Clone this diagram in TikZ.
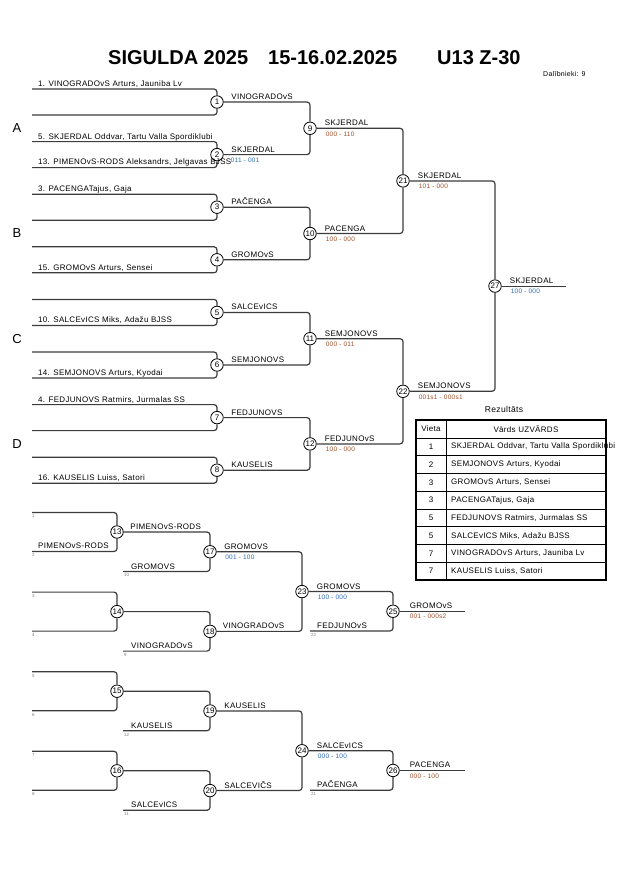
\documentclass[tikz,border=0pt]{standalone}
\usepackage{fontspec}
\setmainfont{Liberation Sans}
\newfontfamily\bracketfont[LetterSpace=4]{Liberation Sans}
\usetikzlibrary{positioning, calc}

\definecolor{wiregray}{HTML}{3C3C3C}
\definecolor{scorebrown}{HTML}{A0522D}
\definecolor{scoreblue}{HTML}{2F6DB5}

\tikzset{
  game/.style={circle, draw=black, line width=0.8pt, fill=white, inner sep=0pt,
    minimum size=12.5pt, font=\fontsize{8}{8}\selectfont},
  wire/.style={draw=wiregray, line width=1.2pt, rounded corners=3pt},
  player/.style={anchor=base west, inner sep=0pt, font=\bracketfont\fontsize{8}{9}\selectfont},
  score/.style={anchor=north west, inner sep=0pt, font=\bracketfont\fontsize{6.5}{7}\selectfont},
  seed/.style={anchor=north west, inner sep=0pt, text=gray, font=\fontsize{4.5}{4.5}\selectfont},
  group/.style={inner sep=0pt, font=\fontsize{13}{15}\selectfont},
  heading/.style={anchor=base west, inner sep=0pt, font=\bfseries\fontsize{20}{24}\selectfont},
  cell/.style={inner sep=0pt, font=\bracketfont\fontsize{8}{9}\selectfont},
}

\begin{document}
\begin{tikzpicture}[x=1pt, y=-1pt]
\useasboundingbox (0,0) rectangle (630,891);

% heading
\node[heading] (title) at (108,64) {SIGULDA 2025};
\node[heading] (dates) at (268,64) {15-16.02.2025};
\node[heading] (class) at (437,64) {U13 Z-30};
\node[anchor=base west, inner sep=0pt, font=\bracketfont\fontsize{7}{8}\selectfont] (count) at (543,76) {Dalībnieki: 9};

% main bracket, first round
\foreach \i in {1,...,8} {
  \pgfmathsetmacro\cy{102+(\i-1)*52.6}
  \node[game] (m\i) at (217,\cy) {\i};
  \coordinate (top\i) at (32,\cy-13);
  \coordinate (bot\i) at (32,\cy+13);
  \draw[wire] (top\i) -| (m\i.north);
  \draw[wire] (bot\i) -| (m\i.south);
}
% later rounds
\foreach \j/\ma/\mb in {9/1/2, 10/3/4, 11/5/6, 12/7/8, 21/9/10, 22/11/12} {
  \node[game] (m\j) at ($(m\ma)!0.5!(m\mb) + (93,0)$) {\j};
  \draw[wire] (m\ma.east) -| (m\j.north);
  \draw[wire] (m\mb.east) -| (m\j.south);
}
\node[game] (m27) at ($(m21)!0.5!(m22) + (92,0)$) {27};
\draw[wire] (m21.east) -| (m27.north);
\draw[wire] (m22.east) -| (m27.south);
\coordinate (champ) at ($(m27) + (71,0)$);
\draw[wire] (m27.east) -- (champ);

% groups
\foreach \g/\k in {A/9, B/10, C/11, D/12}
  \node[group] (grp\g) at (17,0 |- m\k) {\g};

% entrants
\node[player] (p1) at ($(top1)+(6,-2.5)$) {1. VINOGRADOvS Arturs, Jauniba Lv};
\node[player] (p5) at ($(top2)+(6,-2.5)$) {5. SKJERDAL Oddvar, Tartu Valla Spordiklubi};
\node[player] (p13) at ($(bot2)+(6,-3.5)$) {13. PIMENOvS-RODS Aleksandrs, Jelgavas BJSS};
\node[player] (p3) at ($(top3)+(6,-2.5)$) {3. PACENGATajus, Gaja};
\node[player] (p15) at ($(bot4)+(6,-2.5)$) {15. GROMOvS Arturs, Sensei};
\node[player] (p10) at ($(bot5)+(6,-2.5)$) {10. SALCEvICS Miks, Adažu BJSS};
\node[player] (p14) at ($(bot6)+(6,-2.5)$) {14. SEMJONOVS Arturs, Kyodai};
\node[player] (p4) at ($(top7)+(6,-2.5)$) {4. FEDJUNOVS Ratmirs, Jurmalas SS};
\node[player] (p16) at ($(bot8)+(6,-2.5)$) {16. KAUSELIS Luiss, Satori};

% winners of the main bracket
\node[player] (w1) at ($(m1.east)+(7.5,-2.5)$) {VINOGRADOvS};
\node[player] (w2) at ($(m2.east)+(7.5,-2.5)$) {SKJERDAL};
\node[score, text=scoreblue] (s2) at ($(m2.east)+(7,3)$) {011 - 001};
\node[player] (w3) at ($(m3.east)+(7.5,-2.5)$) {PAČENGA};
\node[player] (w4) at ($(m4.east)+(7.5,-2.5)$) {GROMOvS};
\node[player] (w5) at ($(m5.east)+(7.5,-2.5)$) {SALCEvICS};
\node[player] (w6) at ($(m6.east)+(7.5,-2.5)$) {SEMJONOVS};
\node[player] (w7) at ($(m7.east)+(7.5,-2.5)$) {FEDJUNOVS};
\node[player] (w8) at ($(m8.east)+(7.5,-2.5)$) {KAUSELIS};

\node[player] (w9) at ($(m9.east)+(8,-2.5)$) {SKJERDAL};
\node[score, text=scorebrown] (s9) at ($(m9.east)+(9,3)$) {000 - 110};
\node[player] (w10) at ($(m10.east)+(8,-2.5)$) {PACENGA};
\node[score, text=scorebrown] (s10) at ($(m10.east)+(9,3)$) {100 - 000};
\node[player] (w11) at ($(m11.east)+(8,-2.5)$) {SEMJONOVS};
\node[score, text=scorebrown] (s11) at ($(m11.east)+(9,3)$) {000 - 011};
\node[player] (w12) at ($(m12.east)+(8,-2.5)$) {FEDJUNOvS};
\node[score, text=scorebrown] (s12) at ($(m12.east)+(9,3)$) {100 - 000};
\node[player] (w21) at ($(m21.east)+(8,-2.5)$) {SKJERDAL};
\node[score, text=scorebrown] (s21) at ($(m21.east)+(9,3)$) {101 - 000};
\node[player] (w22) at ($(m22.east)+(8,-2.5)$) {SEMJONOVS};
\node[score, text=scorebrown] (s22) at ($(m22.east)+(9,3)$) {001s1 - 000s1};
\node[player] (w27) at ($(m27.east)+(8,-2.5)$) {SKJERDAL};
\node[score, text=scoreblue] (s27) at ($(m27.east)+(9,3)$) {100 - 000};

% consolation bracket
\foreach \i/\k in {13/0, 14/1, 15/2, 16/3} {
  \pgfmathsetmacro\cy{532+\k*79.6}
  \pgfmathtruncatemacro\sa{2*\k+1}
  \pgfmathtruncatemacro\sb{2*\k+2}
  \node[game] (m\i) at (117,\cy) {\i};
  \coordinate (top\i) at (32,\cy-19.5);
  \coordinate (bot\i) at (32,\cy+19.5);
  \draw[wire] (top\i) -| (m\i.north);
  \draw[wire] (bot\i) -| (m\i.south);
  \node[seed] (seed\sa) at ($(top\i)+(0,2)$) {\sa};
  \node[seed] (seed\sb) at ($(bot\i)+(0,2)$) {\sb};
}
\foreach \j/\ma/\n in {17/13/10, 18/14/9, 19/15/12, 20/16/11} {
  \coordinate (bot\j) at ($(m\ma)+(6,39.5)$);
  \node[game] (m\j) at ($(m\ma)+(93,19.75)$) {\j};
  \draw[wire] (m\ma.east) -| (m\j.north);
  \draw[wire] (bot\j) -| (m\j.south);
  \node[seed] (seedr\j) at ($(bot\j)+(1,2)$) {\n};
}
\foreach \j/\ma/\mb in {23/17/18, 24/19/20} {
  \node[game] (m\j) at ($(m\ma)!0.5!(m\mb) + (92,0)$) {\j};
  \draw[wire] (m\ma.east) -| (m\j.north);
  \draw[wire] (m\mb.east) -| (m\j.south);
}
\foreach \j/\ma/\n in {25/23/22, 26/24/21} {
  \coordinate (bot\j) at ($(m\ma)+(8,39.4)$);
  \node[game] (m\j) at ($(m\ma)+(91,19.7)$) {\j};
  \draw[wire] (m\ma.east) -| (m\j.north);
  \draw[wire] (bot\j) -| (m\j.south);
  \node[seed] (seedr\j) at ($(bot\j)+(1,2)$) {\n};
  \coordinate (end\j) at ($(m\j)+(72,0)$);
  \draw[wire] (m\j.east) -- (end\j);
}

% consolation labels
\node[player] (pb13) at ($(bot13)+(6,-3)$) {PIMENOvS-RODS};
\node[player] (w13) at ($(m13.east)+(6.5,-2.5)$) {PIMENOvS-RODS};
\node[player] (pb17) at ($(bot17)+(8,-2.5)$) {GROMOVS};
\node[player] (pb18) at ($(bot18)+(8,-2.5)$) {VINOGRADOvS};
\node[player] (pb19) at ($(bot19)+(8,-2.5)$) {KAUSELIS};
\node[player] (pb20) at ($(bot20)+(8,-2.5)$) {SALCEvICS};
\node[player] (w17) at ($(m17.east)+(7.5,-2.5)$) {GROMOVS};
\node[score, text=scoreblue] (s17) at ($(m17.east)+(8.5,3)$) {001 - 100};
\node[player] (w18) at ($(m18.east)+(6,-2.5)$) {VINOGRADOvS};
\node[player] (w19) at ($(m19.east)+(7.5,-2.5)$) {KAUSELIS};
\node[player] (w20) at ($(m20.east)+(7.5,-2.5)$) {SALCEVIČS};
\node[player] (w23) at ($(m23.east)+(8,-2.5)$) {GROMOVS};
\node[score, text=scoreblue] (s23) at ($(m23.east)+(9,3)$) {100 - 000};
\node[player] (w24) at ($(m24.east)+(8,-2.5)$) {SALCEvICS};
\node[score, text=scoreblue] (s24) at ($(m24.east)+(9,3)$) {000 - 100};
\node[player] (pb25) at ($(bot25)+(7,-2.5)$) {FEDJUNOvS};
\node[player] (pb26) at ($(bot26)+(7,-2.5)$) {PAČENGA};
\node[player] (w25) at ($(m25.east)+(10,-2.5)$) {GROMOvS};
\node[score, text=scorebrown] (s25) at ($(m25.east)+(10,3)$) {001 - 000s2};
\node[player] (w26) at ($(m26.east)+(10,-2.5)$) {PACENGA};
\node[score, text=scorebrown] (s26) at ($(m26.east)+(10,3)$) {000 - 100};

% results table
\node[cell, font=\bracketfont\fontsize{8.5}{10}\selectfont] (restitle) at (504,409) {Rezultāts};
\node[cell] (hplace) at (431,429) {Vieta};
\node[cell] (hname) at (526,429) {Vārds UZVĀRDS};
\foreach \r/\v/\t in {1/1/{SKJERDAL Oddvar, Tartu Valla Spordiklubi},
                      2/2/{SEMJONOVS Arturs, Kyodai},
                      3/3/{GROMOvS Arturs, Sensei},
                      4/3/{PACENGATajus, Gaja},
                      5/5/{FEDJUNOVS Ratmirs, Jurmalas SS},
                      6/5/{SALCEvICS Miks, Adažu BJSS},
                      7/7/{VINOGRADOvS Arturs, Jauniba Lv},
                      8/7/{KAUSELIS Luiss, Satori}} {
  \node[cell] (place\r) at (431,438+\r*17.75-8.9) {\v};
  \node[cell, anchor=west] (name\r) at (451,438+\r*17.75-8.9) {\t};
}
\foreach \r in {0,...,7}
  \draw[line width=0.6pt] (416,438+\r*17.75) -- (606,438+\r*17.75);
\draw[line width=0.6pt] (446,420) -- (446,580);
\draw[line width=1.6pt] (416,420) rectangle (606,580);

\end{tikzpicture}
\end{document}
